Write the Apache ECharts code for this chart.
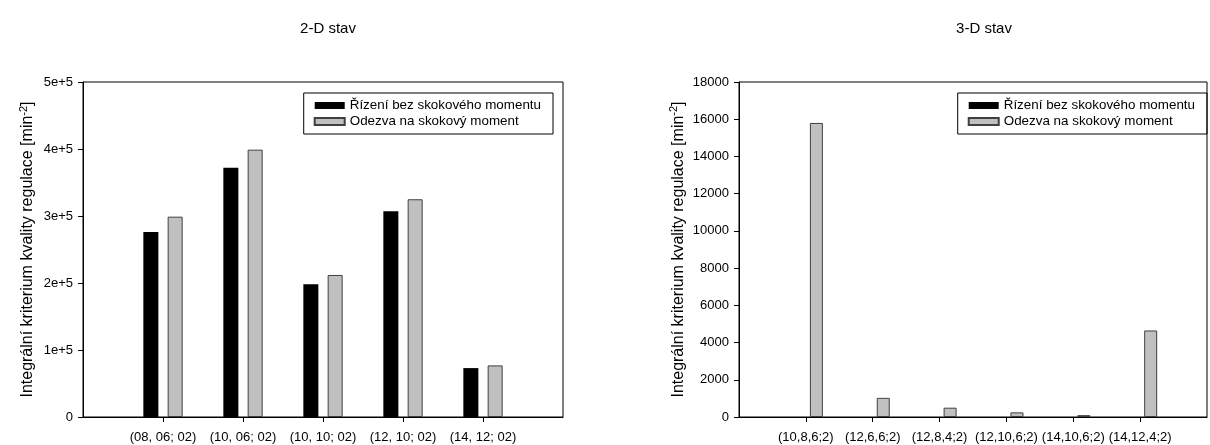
<!DOCTYPE html>
<html>
<head>
<meta charset="utf-8">
<script src="https://cdn.jsdelivr.net/npm/echarts@6/dist/echarts.min.js"></script>
<style>
  html, body { margin: 0; padding: 0; background: #fff; }
  #chart { width: 1210px; height: 445px; }
</style>
</head>
<body>
<div id="chart"></div>
<script>
// 2-D state: controller settings and the two criterion values
const catsLeft = ['(08, 06; 02)', '(10, 06; 02)', '(10, 10; 02)', '(12, 10; 02)', '(14, 12; 02)'];
const ctrlLeft = [276000, 372000, 198000, 307000, 73000];
const stepLeft = [299000, 399000, 212000, 325000, 77000];

// 3-D state
const catsRight = ['(10,8,6;2)', '(12,6,6;2)', '(12,8,4;2)', '(12,10,6;2)', '(14,10,6;2)', '(14,12,4;2)'];
const ctrlRight = [0, 0, 0, 0, 0, 0];
const stepRight = [15800, 1030, 500, 250, 100, 4650];

const seriesNames = ['Řízení bez skokového momentu', 'Odezva na skokový moment'];
const yTitle = 'Integrální kriterium kvality regulace [min{sup|-2}]';
const titles = ['2-D stav', '3-D stav'];

const FONT = '"Liberation Sans", Arial, sans-serif';
const BLACK = '#000000';
const GRAY = '#c0c0c0';

// pad categories with an empty slot on each side so the bar groups sit one step in from the frame
const pad = arr => [''].concat(arr, ['']);
const padVals = arr => [null].concat(arr, [null]);

function xAxis(gridIndex, cats) {
  const data = pad(cats);
  return {
    type: 'category', gridIndex, data, boundaryGap: false,
    axisLine: { lineStyle: { color: '#000', width: 1 } },
    axisTick: { length: 5, inside: false, lineStyle: { color: '#000' },
                interval: (i) => i > 0 && i < data.length - 1 },
    axisLabel: { interval: 0, color: '#000', fontFamily: FONT, fontSize: 13, margin: 14 },
    splitLine: { show: false }
  };
}

function yAxis(gridIndex, max, interval, fmt, gap) {
  return {
    type: 'value', gridIndex, min: 0, max, interval,
    name: yTitle, nameLocation: 'middle', nameGap: gap, nameRotate: 90,
    nameTextStyle: {
      color: '#000', fontFamily: FONT, fontSize: 16, lineHeight: 20,
      rich: { sup: { fontSize: 11, fontFamily: FONT, color: '#000', verticalAlign: 'top', lineHeight: 20 } }
    },
    axisLine: { show: true, lineStyle: { color: '#000', width: 1 } },
    axisTick: { show: true, length: 5, inside: false, lineStyle: { color: '#000' } },
    axisLabel: { color: '#000', fontFamily: FONT, fontSize: 13, margin: 10, formatter: fmt },
    splitLine: { show: false }
  };
}

function bars(name, idx, vals, color, border, bw, width) {
  return {
    type: 'bar', name, xAxisIndex: idx, yAxisIndex: idx,
    data: padVals(vals), barWidth: width, barGap: '62%',
    itemStyle: { color, borderColor: border, borderWidth: bw },
    emphasis: { disabled: true }, animation: false
  };
}

function legend(right) {
  return {
    orient: 'vertical', right, top: 93,
    data: seriesNames.map(n => ({ name: n, icon: 'rect' })),
    itemWidth: 30, itemHeight: 7, itemGap: 3,
    padding: [6, 12, 6, 10],
    borderColor: '#000', borderWidth: 1,
    textStyle: { color: '#000', fontFamily: FONT, fontSize: 13.4 },
    selectedMode: false
  };
}

const chart = echarts.init(document.getElementById('chart'), null, { renderer: 'canvas' });
chart.setOption({
  animation: false,
  color: [BLACK, GRAY],
  title: [
    { text: titles[0], left: 323, top: 16, textAlign: 'center',
      textStyle: { fontFamily: FONT, fontSize: 15, fontWeight: 'normal', color: '#000' } },
    { text: titles[1], left: 979, top: 16, textAlign: 'center',
      textStyle: { fontFamily: FONT, fontSize: 15, fontWeight: 'normal', color: '#000' } }
  ],
  legend: [legend(1210 - 553), legend(1210 - 1207)],
  grid: [
    { left: 83, top: 82, width: 480, height: 335, show: true, borderColor: '#000', borderWidth: 1, backgroundColor: 'transparent' },
    { left: 739, top: 82, width: 479, height: 335, show: true, borderColor: '#000', borderWidth: 1, backgroundColor: 'transparent' }
  ],
  xAxis: [xAxis(0, catsLeft), xAxis(1, catsRight)],
  yAxis: [
    yAxis(0, 500000, 100000, v => v === 0 ? '0' : (v / 100000) + 'e+5', 45),
    yAxis(1, 18000, 2000, v => String(v), 50)
  ],
  series: [
    bars(seriesNames[0], 0, ctrlLeft, BLACK, BLACK, 0, 15),
    bars(seriesNames[1], 0, stepLeft, GRAY, '#404040', 1, 15),
    bars(seriesNames[0], 1, ctrlRight, BLACK, BLACK, 0, 13),
    bars(seriesNames[1], 1, stepRight, GRAY, '#404040', 1, 13)
  ]
});
</script>
</body>
</html>
